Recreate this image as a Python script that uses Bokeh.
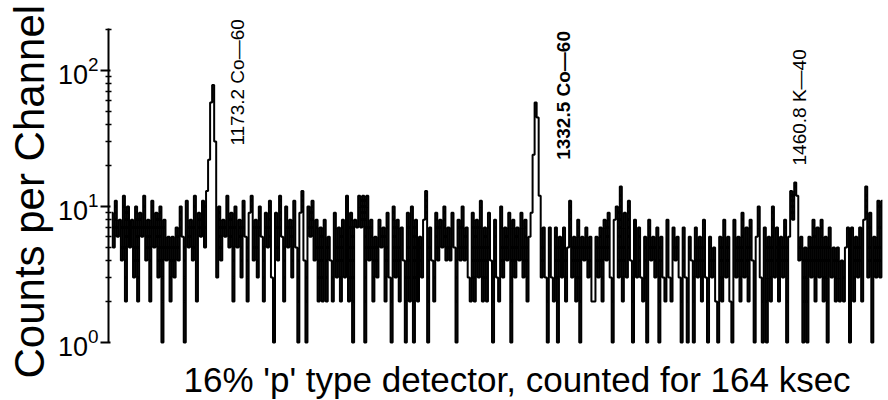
import math

from bokeh.core.properties import value
from bokeh.embed import file_html
from bokeh.models import ColumnDataSource, FixedTicker, Range1d, Title
from bokeh.plotting import figure
from bokeh.resources import INLINE

# ---------------------------------------------------------------------------
# Spectrum data: counts per 1 keV channel, first channel centred on 1123 keV
# ---------------------------------------------------------------------------
first_channel_kev = 1123

counts = [
    9, 5, 11, 6, 8, 4, 12, 2, 10, 5, 8, 3, 10, 2, 9, 6, 12, 4, 8, 2,
    11, 5, 9, 3, 10, 1, 8, 4, 6, 2, 6, 3, 7, 4, 10, 6, 1, 11, 5, 8,
    4, 12, 2, 9, 6, 11, 5, 13, 22, 58, 78, 30, 3, 10, 4, 8, 6, 12, 5, 9,
    2, 10, 5, 8, 3, 11, 6, 2, 9, 12, 4, 8, 3, 10, 6, 2, 9, 5, 11, 3,
    1, 9, 4, 12, 6, 2, 10, 5, 8, 3, 11, 5, 1, 9, 13, 4, 1, 10, 6, 11,
    4, 8, 2, 7, 2, 8, 2, 6, 4, 2, 9, 3, 7, 2, 8, 3, 12, 2, 9, 1,
    8, 7, 12, 7, 12, 1, 12, 4, 8, 2, 6, 3, 8, 5, 7, 2, 9, 3, 1, 10,
    3, 8, 2, 7, 4, 1, 9, 2, 10, 1, 8, 2, 6, 3, 8, 13, 1, 7, 4, 2,
    9, 4, 8, 5, 10, 4, 7, 4, 9, 5, 1, 8, 4, 10, 4, 7, 3, 2, 9, 2,
    8, 3, 11, 2, 7, 2, 9, 4, 1, 8, 3, 2, 10, 3, 7, 4, 9, 1, 8, 3,
    7, 4, 9, 3, 8, 2, 6, 9, 24, 58, 45, 12, 3, 7, 3, 1, 7, 3, 2, 7,
    1, 6, 3, 7, 2, 5, 11, 3, 6, 2, 8, 1, 6, 4, 7, 3, 6, 2, 2, 6,
    3, 7, 2, 8, 4, 9, 3, 1, 8, 10, 3, 14, 2, 9, 3, 11, 4, 1, 8, 3,
    7, 3, 2, 6, 1, 8, 4, 6, 3, 7, 1, 6, 3, 2, 8, 3, 2, 7, 4, 6,
    3, 1, 7, 3, 1, 6, 4, 1, 7, 3, 6, 2, 8, 3, 1, 6, 3, 5, 2, 1,
    6, 2, 8, 3, 6, 2, 1, 8, 3, 6, 2, 9, 3, 7, 2, 8, 4, 1, 6, 10,
    3, 1, 7, 1, 6, 2, 10, 3, 7, 2, 6, 3, 8, 1, 6, 13, 8, 15, 12, 4,
    6, 1, 5, 1, 6, 3, 8, 2, 7, 3, 8, 2, 6, 1, 7, 3, 5, 2, 5, 2,
    4, 2, 5, 7, 1, 7, 2, 6, 3, 7, 2, 8, 14, 3, 9, 1, 6, 3, 11, 3, 11,
]

# Identified gamma lines (keV) and their nuclides
peak_energy = [1173.2, 1332.5, 1460.8]
peak_nuclide = ["Co—60", "Co—60", "K—40"]

# Y axis decades and their minor subdivisions
y_major_ticks = [1, 10, 100]
y_minor_ticks = [2, 3, 4, 5, 6, 7, 8, 9, 20, 30, 40, 50, 60, 70, 80, 90, 200]

caption = "16% 'p' type detector, counted for 164 ksec"
y_title = "Counts per Channel"

# ---------------------------------------------------------------------------
energy = [first_channel_kev + i for i in range(len(counts))]
spectrum = ColumnDataSource(data=dict(energy=energy, counts=counts))

FONT = "Liberation Sans"

p = figure(
    width=888,
    height=400,
    y_axis_type="log",
    x_range=Range1d(1121.4, 1505.0),
    y_range=Range1d(0.789, 300),
    x_axis_location=None,
    output_backend="svg",
    toolbar_location=None,
    min_border_left=108,
    min_border_right=2,
    min_border_top=5,
    min_border_bottom=44,
)
p.outline_line_color = None
p.grid.visible = False
p.background_fill_color = "white"
p.border_fill_color = "white"

# Spectrum drawn as a histogram (one step per channel)
p.step(
    x="energy",
    y="counts",
    source=spectrum,
    mode="center",
    line_color="black",
    line_width=2.0,
)

# Left logarithmic axis, its line running from 10^0 to a little above 10^2
ax = p.yaxis[0]
ax.bounds = (1, 204)
ax.ticker = FixedTicker(ticks=y_major_ticks, minor_ticks=y_minor_ticks)
ax.major_label_text_font = FONT
ax.major_label_text_font_size = "27px"
ax.major_label_text_color = "black"
ax.major_label_standoff = 2
ax.axis_line_color = "black"
ax.axis_line_width = 2
ax.major_tick_line_color = "black"
ax.major_tick_line_width = 2
ax.major_tick_out = 8
ax.major_tick_in = 2
ax.minor_tick_line_color = "black"
ax.minor_tick_line_width = 1.5
ax.minor_tick_out = 3
ax.minor_tick_in = 3

# Vertical axis title
p.add_layout(
    Title(
        text=y_title,
        align="left",
        offset=-22,
        standoff=4,
        text_font=FONT,
        text_font_size="42px",
        text_font_style="normal",
        text_color="black",
    ),
    "left",
)

# Caption beneath the spectrum
p.add_layout(
    Title(
        text=caption,
        align="left",
        offset=75,
        standoff=3,
        text_font=FONT,
        text_font_size="35px",
        text_font_style="normal",
        text_color="black",
    ),
    "below",
)

# Peak annotations, written vertically beside each line
label_base = [28, 22, 20]      # count level where each label starts
label_shift = [24, 27, 3]      # horizontal pixel shift from the peak
label_style = ["normal", "bold", "normal"]
for e, nuc, base, shift, style in zip(peak_energy, peak_nuclide,
                                      label_base, label_shift, label_style):
    p.text(
        x=[e],
        y=[base],
        text=[f"{e:.1f} {nuc}"],
        angle=math.pi / 2,
        x_offset=shift,
        text_align="left",
        text_baseline="middle",
        text_font=value(FONT),
        text_font_size="19px",
        text_font_style=style,
        text_color="black",
    )

open("out.html", "w").write(file_html(p, INLINE))
